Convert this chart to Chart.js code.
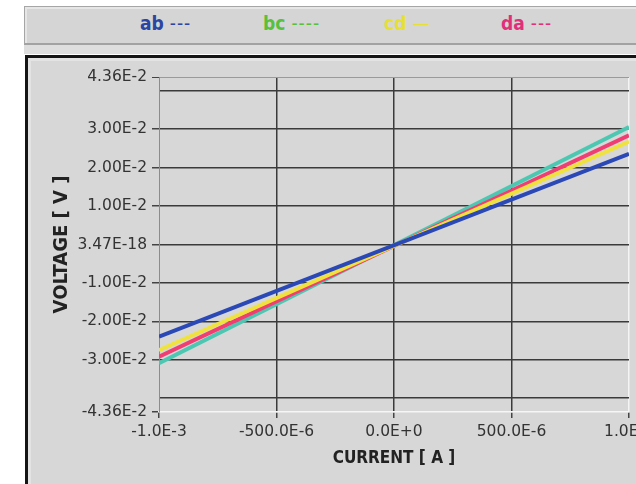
<!DOCTYPE html>
<html>
<head>
<meta charset="utf-8">
<script src="https://cdn.jsdelivr.net/npm/chart.js@4/dist/chart.umd.min.js"></script>
<style>
    html, body { margin: 0; padding: 0; background: #fff; }
    body { width: 636px; height: 484px; overflow: hidden; position: relative; }
    #legend {
        position: absolute; left: 24px; top: 6px; width: 620px; height: 36px;
        background: #d5d5d5;
        border-top: 1px solid #a6a6a6; border-left: 1px solid #a6a6a6;
        border-bottom: 2px solid #a2a2a2;
        box-shadow: inset 2px 2px 0 #e6e6e6;
    }
    #legend span.item {
        position: absolute; top: 5px;
        font: bold 19px 'DejaVu Sans Condensed', sans-serif;
        white-space: nowrap;
    }
    #legend span.dash { font-weight: normal; letter-spacing: 1px; margin-left: 6px; }
    #gap { position: absolute; left: 24px; top: 45px; width: 620px; height: 9px; background: #dedede; }
    #panel {
        position: absolute; left: 25px; top: 55px; width: 620px; height: 426px;
        background: #d7d7d7;
        border-top: 3px solid #151515; border-left: 3px solid #151515;
        border-bottom: 1px solid #a8a8a8;
        box-shadow: inset 3px 3px 0 #e3e3e3;
    }
    #chart { position: absolute; left: 0; top: 0; }
</style>
</head>
<body>
<div id="legend"></div>
<div id="gap"></div>
<div id="panel"></div>
<canvas id="chart" width="636" height="484"></canvas>
<script>
// series
const seriesNames = ['ab', 'bc', 'cd', 'da'];
const legendDashes = ['---', '----', '\u2014', '---'];
const legendColors = ['#2c44a2', '#58c03c', '#e6e034', '#e0307a'];
const lineColors = ['#2b49b6', '#4cc8b2', '#f0e23e', '#f03e72'];
const legendX = [139, 262, 383, 500];

// current [A] at both ends of the sweep
const current = [-1.0e-3, 1.0e-3];
const abVolt = [-0.0240, 0.0236];
const bcVolt = [-0.0309, 0.0306];
const cdVolt = [-0.0275, 0.0268];
const daVolt = [-0.0292, 0.0284];
const voltages = [abVolt, bcVolt, cdVolt, daVolt];

// axes
const xTicks = [-1.0e-3, -500.0e-6, 0, 500.0e-6, 1.0e-3];
const xLabels = ['-1.0E-3', '-500.0E-6', '0.0E+0', '500.0E-6', '1.0E-3'];
const yTicks = [-0.0436, -0.04, -0.03, -0.02, -0.01, 0, 0.01, 0.02, 0.03, 0.04, 0.0436];
const yLabels = ['-4.36E-2', '', '-3.00E-2', '-2.00E-2', '-1.00E-2', '3.47E-18', '1.00E-2', '2.00E-2', '3.00E-2', '', '4.36E-2'];

// html legend
const legend = document.getElementById('legend');
seriesNames.forEach(function(name, i) {
    let item = document.createElement('span');
    item.className = 'item';
    item.style.left = (legendX[i] - 24) + 'px';
    item.style.color = legendColors[i];
    item.innerHTML = name + '<span class="dash">' + legendDashes[i] + '</span>';
    legend.appendChild(item);
});

// ab drawn first, then cd, da, bc on top
const order = [0, 2, 3, 1];
const datasets = order.map(function(i) {
    return {
        label: seriesNames[i],
        data: current.map(function(c, j) { return {x: c, y: voltages[i][j]} }),
        borderColor: lineColors[i],
        borderWidth: 4,
        pointRadius: 0,
        tension: 0
    }
});

const tickFont = {family: 'DejaVu Sans', size: 15.5};

const ctx = document.getElementById('chart').getContext('2d');
const myChart = new Chart(ctx, {
    type: 'line',
    data: { datasets: datasets },
    options: {
        responsive: false,
        animation: false,
        layout: { padding: {left: 30, top: 77, right: 7, bottom: 10} },
        plugins: { legend: { display: false }, tooltip: { enabled: false } },
        scales: {
            x: {
                type: 'linear',
                min: -1.0e-3,
                max: 1.0e-3,
                afterBuildTicks: function(scale) {
                    scale.ticks = xTicks.map(function(v) { return {value: v} })
                },
                afterFit: function(scale) {
                    scale.height = 62;
                    scale.paddingLeft = 0;
                    scale.paddingRight = 0;
                },
                ticks: {
                    autoSkip: false,
                    maxRotation: 0,
                    padding: 5,
                    color: '#333',
                    font: tickFont,
                    callback: function(value, index) { return xLabels[index] }
                },
                grid: {
                    color: function(c) {
                        if (c.index === xTicks.length - 1) return '#f4f4f4';
                        if (c.index === 0) return 'rgba(0,0,0,0)';
                        return '#3a3a3a';
                    },
                    lineWidth: 1.5,
                    tickLength: 6,
                    tickColor: '#444'
                },
                border: { color: '#f6f6f6', width: 1.5 },
                title: {
                    display: true,
                    text: 'CURRENT [ A ]',
                    color: '#222',
                    font: {family: "'DejaVu Sans Condensed', sans-serif", size: 17, weight: 'bold'},
                    padding: {top: 0, bottom: 5}
                }
            },
            y: {
                type: 'linear',
                min: -0.0436,
                max: 0.0436,
                afterBuildTicks: function(scale) {
                    scale.ticks = yTicks.map(function(v) { return {value: v} })
                },
                afterFit: function(scale) {
                    scale.width = 129;
                    scale.paddingTop = 0;
                    scale.paddingBottom = 0;
                },
                ticks: {
                    autoSkip: false,
                    padding: 5,
                    color: '#333',
                    font: tickFont,
                    callback: function(value, index) { return yLabels[index] }
                },
                grid: {
                    color: function(c) {
                        if (c.index === yTicks.length - 1) return '#9a9a9a';
                        if (c.index === 0) return 'rgba(0,0,0,0)';
                        return '#3a3a3a';
                    },
                    lineWidth: function(c) {
                        return c.index === yTicks.length - 1 ? 1 : 1.5
                    },
                    tickLength: 7,
                    tickColor: function(c) {
                        return yLabels[c.index] === '' ? 'rgba(0,0,0,0)' : '#444'
                    }
                },
                border: { color: '#8c8c8c', width: 1 },
                title: {
                    display: true,
                    text: 'VOLTAGE [ V ]',
                    color: '#222',
                    font: {family: "'DejaVu Sans Condensed', sans-serif", size: 20, weight: 'bold'},
                    padding: {top: 20, bottom: 0}
                }
            }
        }
    }
});
</script>
</body>
</html>
